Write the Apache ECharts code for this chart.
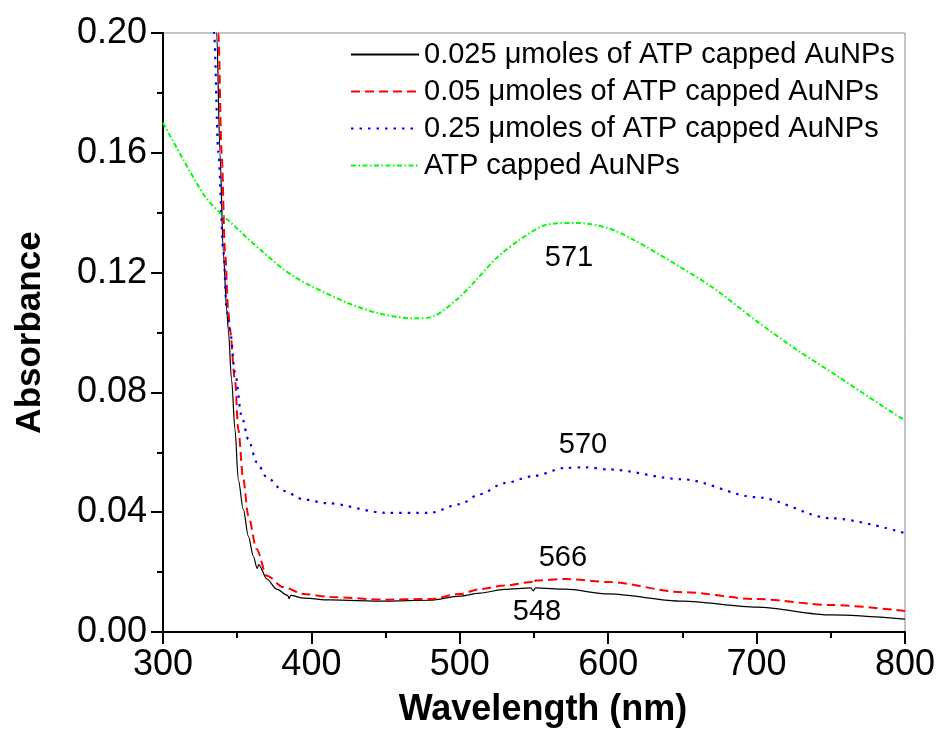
<!DOCTYPE html>
<html>
<head>
<meta charset="utf-8">
<script src="https://cdn.jsdelivr.net/npm/echarts@6/dist/echarts.min.js"></script>
<style>
html,body{margin:0;padding:0;background:#fff;}
#chart{width:940px;height:733px;}
</style>
</head>
<body>
<div id="chart"></div>
<script>
// ---- data ----
var seriesNames = [
  '0.025 \u03bcmoles of ATP capped AuNPs',
  '0.05 \u03bcmoles of ATP capped AuNPs',
  '0.25 \u03bcmoles of ATP capped AuNPs',
  'ATP capped AuNPs'
];

var wlBlack = [330, 334, 336.2, 338.4, 340.6, 343, 344, 346.2, 348.5, 350.7, 354.1, 357.5, 360.9, 363.5, 364.5, 370, 376.6, 384, 385, 386, 395, 412.6, 450, 480, 500, 513.6, 530, 548, 549.5, 551, 571, 600, 650, 700, 750, 800];
var absBlack = [0.26, 0.22, 0.2, 0.16, 0.127, 0.107, 0.101, 0.0843, 0.0677, 0.051, 0.041, 0.032, 0.0253, 0.0212, 0.0225, 0.0177, 0.0143, 0.0122, 0.0112, 0.0122, 0.0113, 0.0107, 0.0103, 0.0106, 0.012, 0.013, 0.0142, 0.0147, 0.0137, 0.0147, 0.0143, 0.0127, 0.0103, 0.0083, 0.0057, 0.0043];

var wlRed = [330, 335, 337.3, 339.5, 341.8, 344, 345.1, 348.5, 350.7, 354.1, 357.5, 363.1, 369.9, 381.1, 394.6, 412.6, 450, 480, 500, 513.6, 530, 549, 550, 551, 571, 600, 650, 700, 750, 800];
var absRed = [0.27, 0.225, 0.2, 0.16, 0.127, 0.107, 0.101, 0.0843, 0.0677, 0.051, 0.0388, 0.0277, 0.0188, 0.015, 0.0127, 0.0117, 0.0108, 0.011, 0.0127, 0.0143, 0.0155, 0.0167, 0.016, 0.0172, 0.0177, 0.0167, 0.0133, 0.011, 0.009, 0.007];

var wlBlue = [328, 332, 334.4, 337.3, 340.7, 343, 345.1, 348.5, 353, 357.5, 363.1, 369.9, 381.1, 394.6, 410.3, 450, 480, 500, 513.6, 530, 549, 571, 585, 600, 650, 700, 750, 800];
var absBlue = [0.26, 0.22, 0.2, 0.16, 0.127, 0.107, 0.101, 0.0867, 0.0721, 0.0643, 0.0567, 0.0517, 0.0471, 0.0443, 0.043, 0.0398, 0.0398, 0.0427, 0.046, 0.0497, 0.052, 0.0548, 0.055, 0.0543, 0.051, 0.045, 0.038, 0.033];

var wlGreen = [300, 313.7, 328.3, 338.4, 345, 365.4, 387.9, 423.8, 446.2, 468.7, 482.2, 498, 511.3, 524.8, 540.5, 558.5, 578.7, 600, 616.9, 648.4, 670.8, 700, 726.9, 756.1, 783.1, 800];
var absGreen = [0.170, 0.1577, 0.1454, 0.140, 0.137, 0.1277, 0.1188, 0.110, 0.1063, 0.1047, 0.1054, 0.111, 0.1177, 0.1249, 0.131, 0.136, 0.1366, 0.1348, 0.131, 0.1219, 0.1149, 0.1038, 0.0943, 0.0849, 0.076, 0.0706];

var peakLabels = ['571', '570', '566', '548'];
var peakLabelX = [573.6, 583.0, 569.5, 552.0];
var peakLabelY = [0.125, 0.0623, 0.0247, 0.0067];

var xTicks = [300, 400, 500, 600, 700, 800];
var yTicks = [0, 0.04, 0.08, 0.12, 0.16, 0.20];

function pairs(xs, ys) { return xs.map(function (x, i) { return [x, ys[i]]; }); }

var FONT = '"Liberation Sans", Arial, sans-serif';

var chart = echarts.init(document.getElementById('chart'), null, { renderer: 'canvas' });

function lineSeries(name, xs, ys, color, width, type, monotone) {
  return {
    name: name,
    type: 'line',
    data: pairs(xs, ys),
    symbol: 'none',
    showSymbol: false,
    smooth: 0.3,
    smoothMonotone: monotone ? 'x' : null,
    clip: true,
    lineStyle: { color: color, width: width, type: type },
    itemStyle: { color: color, opacity: 0 },
    emphasis: { disabled: true },
    z: 3
  };
}

var option = {
  backgroundColor: '#fff',
  animation: false,
  grid: {
    left: 163, right: 35, top: 33, bottom: 100,
    show: true, borderColor: '#888', borderWidth: 1, backgroundColor: 'transparent'
  },
  legend: {
    data: seriesNames,
    orient: 'vertical',
    left: 345, top: 35,
    itemWidth: 68, itemHeight: 14, itemGap: 8,
    itemStyle: { opacity: 0 },
    textStyle: { fontFamily: FONT, fontSize: 29, color: '#000', lineHeight: 29 },
    selectedMode: false
  },
  xAxis: {
    type: 'value',
    min: 300, max: 800, interval: 100,
    name: 'Wavelength (nm)',
    nameLocation: 'middle',
    nameGap: 60,
    nameTextStyle: { fontFamily: FONT, fontSize: 36, fontWeight: 'bold', color: '#000', padding: [0, 0, 0, 18] },
    axisLine: { show: true, onZero: false, lineStyle: { color: '#000', width: 2 } },
    axisTick: { show: true, inside: false, length: 12, lineStyle: { color: '#000', width: 2 } },
    minorTick: { show: true, splitNumber: 2, length: 6, lineStyle: { color: '#000', width: 2 } },
    splitLine: { show: false },
    axisLabel: { fontFamily: FONT, fontSize: 36, color: '#000', margin: 15,
      formatter: function (v) { return xTicks.indexOf(v) >= 0 ? String(v) : ''; } }
  },
  yAxis: {
    type: 'value',
    min: 0, max: 0.2, interval: 0.04,
    name: 'Absorbance',
    nameLocation: 'middle',
    nameGap: 115,
    nameRotate: 90,
    nameTextStyle: { fontFamily: FONT, fontSize: 35, fontWeight: 'bold', color: '#000' },
    axisLine: { show: true, onZero: false, lineStyle: { color: '#000', width: 2 } },
    axisTick: { show: true, inside: false, length: 12, lineStyle: { color: '#000', width: 2 } },
    minorTick: { show: true, splitNumber: 2, length: 6, lineStyle: { color: '#000', width: 2 } },
    splitLine: { show: false },
    axisLabel: { fontFamily: FONT, fontSize: 36, color: '#000', margin: 16,
      formatter: function (v) {
        for (var i = 0; i < yTicks.length; i++) { if (Math.abs(yTicks[i] - v) < 1e-9) return yTicks[i].toFixed(2); }
        return '';
      } }
  },
  series: [
    lineSeries(seriesNames[0], wlBlack, absBlack, '#000000', 1.2, 'solid', true),
    lineSeries(seriesNames[1], wlRed, absRed, '#ff0000', 2, [9, 5], true),
    lineSeries(seriesNames[2], wlBlue, absBlue, '#0000ff', 2.2, [2.5, 6], true),
    lineSeries(seriesNames[3], wlGreen, absGreen, '#00ff00', 2, [5, 2.5, 1.5, 2.5], false),
    {
      name: 'peaks',
      type: 'scatter',
      data: peakLabels.map(function (t, i) { return { value: [peakLabelX[i], peakLabelY[i]], name: t }; }),
      symbol: 'circle',
      symbolSize: 0,
      silent: true,
      itemStyle: { color: '#000000', opacity: 1 },
      label: {
        show: true, position: 'inside',
        formatter: function (p) { return p.name; },
        fontFamily: FONT, fontSize: 29, color: '#000000', textBorderWidth: 0, opacity: 1
      },
      z: 5
    }
  ]
};
chart.setOption(option);
</script>
</body>
</html>
